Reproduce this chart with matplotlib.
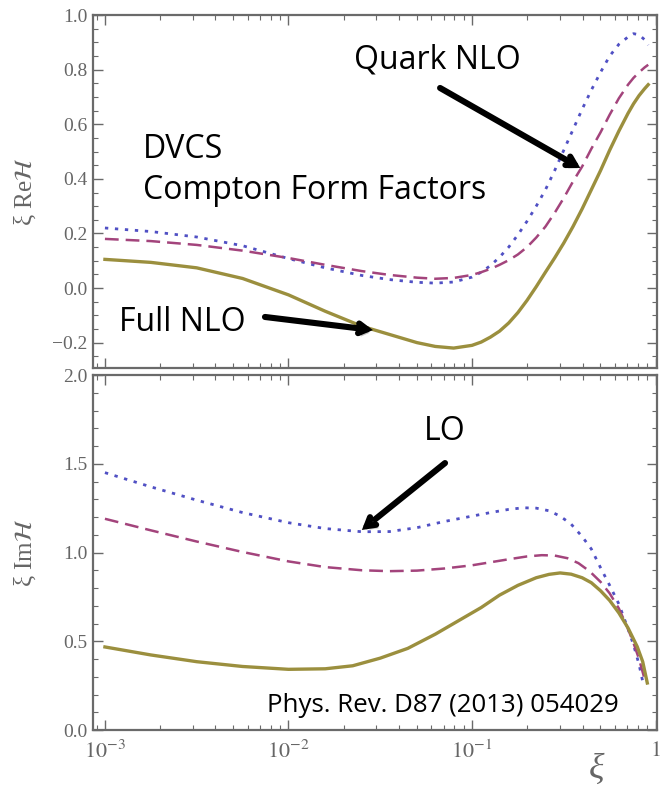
import numpy as np
import matplotlib
matplotlib.use("Agg")
import matplotlib.pyplot as plt
from matplotlib import patheffects as pe
from matplotlib.ticker import FixedLocator, FixedFormatter, MultipleLocator, FuncFormatter, LogLocator, NullFormatter

plt.rcParams["mathtext.fontset"] = "stix"

# ---- Compton form factors, real part (xi * Re H) ----
re_log_xi = [-3.0, -2.75, -2.5, -2.25, -2.0, -1.8, -1.6, -1.45, -1.3, -1.2, -1.1,
             -1.0, -0.95, -0.9, -0.85, -0.8, -0.75, -0.7, -0.65, -0.6, -0.55,
             -0.5, -0.45, -0.4, -0.35, -0.3, -0.25, -0.2, -0.15, -0.12, -0.09,
             -0.06, -0.04]
re_lo = [0.22, 0.207, 0.187, 0.155, 0.108, 0.074, 0.046, 0.031, 0.021, 0.018, 0.022,
         0.04, 0.058, 0.082, 0.113, 0.15, 0.195, 0.245, 0.30, 0.36, 0.43,
         0.505, 0.58, 0.655, 0.725, 0.79, 0.85, 0.893, 0.92, 0.932, 0.928,
         0.91, 0.89]
re_quark_nlo = [0.18, 0.172, 0.158, 0.137, 0.11, 0.085, 0.062, 0.048, 0.038, 0.034, 0.037,
                0.048, 0.058, 0.07, 0.085, 0.102, 0.123, 0.15, 0.185, 0.225, 0.275,
                0.33, 0.39, 0.445, 0.51, 0.57, 0.635, 0.695, 0.745, 0.77, 0.79,
                0.808, 0.818]
re_full_nlo = [0.105, 0.094, 0.074, 0.035, -0.025, -0.085, -0.14, -0.17, -0.2, -0.214, -0.22,
               -0.21, -0.198, -0.18, -0.158, -0.128, -0.09, -0.045, 0.005, 0.058, 0.11,
               0.165, 0.225, 0.29, 0.36, 0.43, 0.505, 0.575, 0.64, 0.675, 0.705,
               0.73, 0.745]

# ---- Compton form factors, imaginary part (xi * Im H) ----
im_lo_log_xi = [-3.0, -2.75, -2.5, -2.25, -2.0, -1.8, -1.6, -1.45, -1.3, -1.15, -1.0,
                -0.9, -0.8, -0.72, -0.65, -0.58, -0.52, -0.46, -0.4, -0.35, -0.3,
                -0.25, -0.2, -0.15, -0.12, -0.09, -0.065]
im_lo = [1.45, 1.37, 1.295, 1.225, 1.168, 1.135, 1.117, 1.118, 1.14, 1.175, 1.205,
         1.225, 1.243, 1.252, 1.25, 1.235, 1.205, 1.16, 1.09, 1.02, 0.915,
         0.815, 0.71, 0.57, 0.48, 0.37, 0.25]

im_quark_log_xi = [-3.0, -2.75, -2.5, -2.25, -2.0, -1.8, -1.6, -1.45, -1.3, -1.15, -1.0,
                   -0.9, -0.8, -0.7, -0.62, -0.55, -0.48, -0.42, -0.36, -0.3, -0.25,
                   -0.2, -0.15, -0.12, -0.09, -0.055]
im_quark_nlo = [1.19, 1.125, 1.062, 1.003, 0.95, 0.918, 0.9, 0.895, 0.898, 0.91, 0.928,
                0.945, 0.962, 0.978, 0.985, 0.983, 0.968, 0.94, 0.895, 0.835, 0.77,
                0.685, 0.57, 0.49, 0.40, 0.27]

im_full_log_xi = [-3.0, -2.75, -2.5, -2.25, -2.0, -1.8, -1.65, -1.5, -1.35, -1.2, -1.05,
                  -0.95, -0.85, -0.75, -0.65, -0.58, -0.52, -0.46, -0.4, -0.35, -0.3,
                  -0.25, -0.2, -0.15, -0.1, -0.07, -0.045]
im_full_nlo = [0.468, 0.423, 0.385, 0.358, 0.342, 0.345, 0.362, 0.405, 0.46, 0.54, 0.63,
               0.69, 0.76, 0.815, 0.858, 0.877, 0.885, 0.878, 0.858, 0.83, 0.785,
               0.73, 0.66, 0.575, 0.47, 0.385, 0.265]

x_tick_labels = [r"$10^{-3}$", r"$10^{-2}$", r"$10^{-1}$", r"$1$"]
x_tick_pos = [1e-3, 1e-2, 1e-1, 1.0]

c_lo = "#5050c4"
c_quark = "#a3447c"
c_full = "#9b8f3e"
frame_c = "#6a6a6a"
label_c = "#666666"

st_lo = dict(color=c_lo, lw=2.0, ls=(0, (1.2, 2.4)), dash_capstyle="butt")
st_quark = dict(color=c_quark, lw=1.8, ls=(0, (5.5, 2.8)))
st_full = dict(color=c_full, lw=2.4, ls="-")

fig = plt.figure(figsize=(6.61, 7.86), dpi=100)
ax1 = fig.add_axes([0.1407, 0.5318, 0.853, 0.449])
ax2 = fig.add_axes([0.1407, 0.0712, 0.853, 0.4517])

ax1.plot(10 ** np.array(re_log_xi), re_lo, **st_lo)
ax1.plot(10 ** np.array(re_log_xi), re_quark_nlo, **st_quark)
ax1.plot(10 ** np.array(re_log_xi), re_full_nlo, **st_full)

ax2.plot(10 ** np.array(im_lo_log_xi), im_lo, **st_lo)
ax2.plot(10 ** np.array(im_quark_log_xi), im_quark_nlo, **st_quark)
ax2.plot(10 ** np.array(im_full_log_xi), im_full_nlo, **st_full)

xmin, xmax = 10 ** -3.065, 10 ** 0.007
ax1.set_ylim(-0.293, 1.0)
ax2.set_ylim(0.0, 2.0)


def minus_fmt(v, pos):
    return f"{v:.1f}".replace("-", "\u2212")


for ax in (ax1, ax2):
    ax.set_xscale("log")
    ax.set_xlim(xmin, xmax)
    for sp in ax.spines.values():
        sp.set_color(frame_c)
        sp.set_linewidth(1.6)
    ax.tick_params(which="both", direction="in", top=True, right=True,
                   color=frame_c, labelcolor=label_c)
    ax.tick_params(which="major", length=7, width=1.0)
    ax.tick_params(which="minor", length=3.5, width=0.8)
    ax.xaxis.set_major_locator(FixedLocator(x_tick_pos))
    ax.xaxis.set_minor_locator(LogLocator(base=10, subs=np.arange(2, 10)))
    ax.xaxis.set_minor_formatter(NullFormatter())
    ax.yaxis.set_major_formatter(FuncFormatter(minus_fmt))
    ax.tick_params(axis="y", labelsize=14, pad=4)

ax1.yaxis.set_major_locator(MultipleLocator(0.2))
ax1.yaxis.set_minor_locator(MultipleLocator(0.05))
ax1.xaxis.set_major_formatter(NullFormatter())
ax2.yaxis.set_major_locator(MultipleLocator(0.5))
ax2.yaxis.set_minor_locator(MultipleLocator(0.1))
ax2.xaxis.set_major_formatter(FixedFormatter(x_tick_labels))
ax2.tick_params(axis="x", labelsize=16, pad=7)

for ax in (ax1, ax2):
    for lab in ax.get_yticklabels():
        lab.set_fontfamily("Liberation Serif")

ax1.set_ylabel("ξ Re$\\mathcal{H}$", fontsize=18, color=label_c, family="Liberation Serif")
ax2.set_ylabel("ξ Im$\\mathcal{H}$", fontsize=18, color=label_c, family="Liberation Serif")
ax1.yaxis.set_label_coords(-0.0975, 0.5)
ax2.yaxis.set_label_coords(-0.0975, 0.5)
fig.text(0.903, 0.010, "ξ", fontsize=26, color=label_c, ha="center", va="baseline",
         family="Liberation Serif", style="italic")

# annotations
ann_font = "Open Sans"
ann_size = 23
shadow = [pe.withSimplePatchShadow(offset=(2, -2.5), shadow_rgbFace="0.35", alpha=0.35)]
arrow_kw = dict(arrowstyle="->,head_length=0.6,head_width=0.35", lw=4.4, color="black",
                shrinkA=0, shrinkB=0, capstyle="round", joinstyle="miter")

ax1.text(0.0887, 0.618, "DVCS", transform=ax1.transAxes, fontsize=ann_size,
         family=ann_font, va="center", ha="left")
ax1.text(0.0887, 0.504, "Compton Form Factors", transform=ax1.transAxes, fontsize=ann_size,
         family=ann_font, va="center", ha="left")

ax1.text(10 ** -1.19, 0.835, "Quark NLO", fontsize=ann_size, family=ann_font, ha="center", va="center")
a = ax1.annotate("", xy=(10 ** -0.41, 0.44), xytext=(10 ** -1.174, 0.733),
                 arrowprops=arrow_kw)
a.arrow_patch.set_path_effects(shadow)

ax1.text(10 ** -2.58, -0.125, "Full NLO", fontsize=ann_size, family=ann_font, ha="center", va="center")
a = ax1.annotate("", xy=(10 ** -1.54, -0.154), xytext=(10 ** -2.128, -0.106),
                 arrowprops=arrow_kw)
a.arrow_patch.set_path_effects(shadow)

ax2.text(10 ** -1.147, 1.68, "LO", fontsize=ann_size, family=ann_font, ha="center", va="center")
a = ax2.annotate("", xy=(10 ** -1.6, 1.127), xytext=(10 ** -1.147, 1.504),
                 arrowprops=arrow_kw)
a.arrow_patch.set_path_effects(shadow)

ax2.text(0.3085, 0.068, "Phys. Rev. D87 (2013) 054029", transform=ax2.transAxes,
         fontsize=18.6, family=ann_font, ha="left", va="center")

fig.savefig("out.png", dpi=100)
